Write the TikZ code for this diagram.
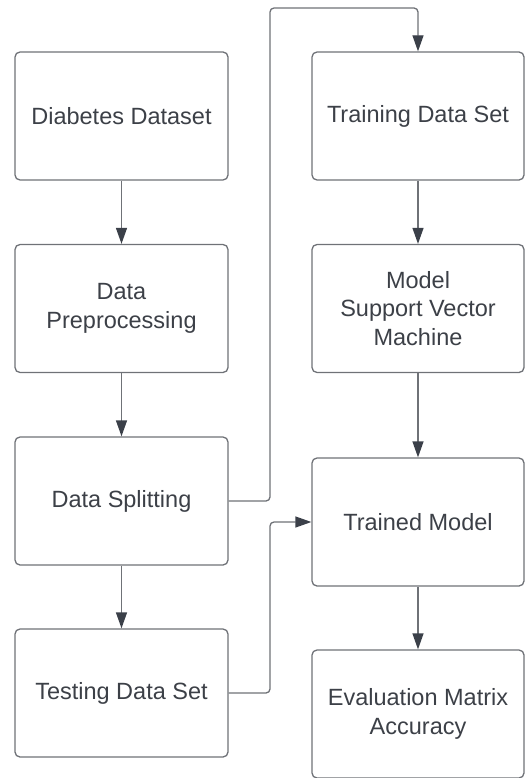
\documentclass[tikz,border=0pt]{standalone}
\usepackage{fontspec}
\setmainfont{Liberation Sans}
\usetikzlibrary{arrows.meta}
\definecolor{linegray}{HTML}{6F7277}
\definecolor{tipgray}{HTML}{3B4049}
\definecolor{txtgray}{HTML}{3C4047}
\begin{document}
\begin{tikzpicture}[x=1pt,y=-1pt,
 box/.style={draw=linegray, line width=1.3pt, rounded corners=5pt, minimum width=213pt, minimum height=128pt, inner sep=0pt, align=center, text=txtgray, font=\fontsize{23.5}{28.5}\selectfont},
 rbox/.style={box, minimum width=212pt},
 flow/.style={draw=linegray, line width=1.3pt, -{Triangle[length=16pt,width=11pt,fill=tipgray,color=tipgray]}, rounded corners=4pt}]
\useasboundingbox (0,0) rectangle (527,778);
\node[box] (d1) at (121.5,116) {Diabetes Dataset};
\node[box] (d2) at (121.5,308.5) {Data\\Preprocessing};
\node[box] (d3) at (121.5,501) {Data Splitting};
\node[box] (d4) at (121.5,693) {Testing Data Set};
\node[rbox] (r1) at (418,116) {Training Data Set};
\node[rbox] (r2) at (418,308.5) {Model\\Support Vector\\Machine};
\node[rbox] (r3) at (418,522) {Trained Model};
\node[rbox] (r4) at (418,714) {Evaluation Matrix\\Accuracy};
\coordinate (t1) at (270,8);
\coordinate (t2) at (418,8);
\coordinate (b1) at (270,522);
\draw[flow] (d1) -- (d2);
\draw[flow] (d2) -- (d3);
\draw[flow] (d3) -- (d4);
\draw[flow] (r1) -- (r2);
\draw[flow] (r2) -- (r3);
\draw[flow] (r3) -- (r4);
\draw[flow] (d3.east) -| (t1) -- (t2) -- (r1.north);
\draw[flow] (d4.east) -| (b1) -- (r3.west);
\end{tikzpicture}
\end{document}
